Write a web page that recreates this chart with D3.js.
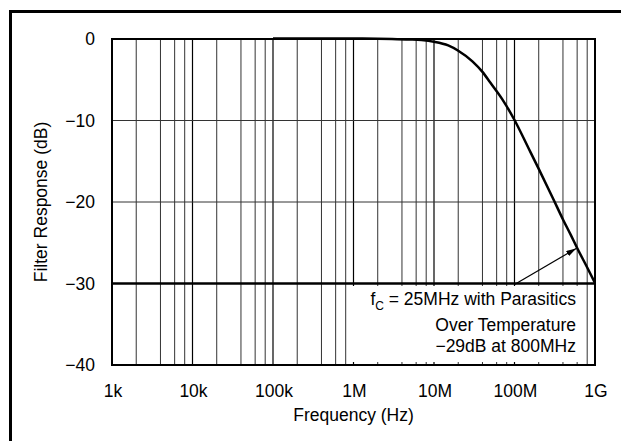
<!DOCTYPE html>
<html>
<head>
<meta charset="utf-8">
<script src="https://cdn.jsdelivr.net/npm/d3@7"></script>
<style>
  body { margin: 0; background: #fff; }
  text { font-family: "Liberation Sans", Arial, sans-serif; fill: #000; }
</style>
</head>
<body>
<div id="chart"></div>
<script>
// values
const freqHz = [1e5, 1e6, 2e6, 3e6, 5e6, 7e6, 1e7, 1.5e7, 2e7, 3e7, 4e7, 5e7, 7e7, 1e8, 1.5e8, 2e8, 3e8, 4e8, 5e8, 6e8, 8e8, 1e9];
const responseDb = [0, 0, -0.02, -0.05, -0.12, -0.2, -0.4, -0.85, -1.5, -2.8, -4.1, -5.4, -7.4, -10.0, -13.5, -16.0, -19.6, -22.2, -24.1, -25.7, -28.1, -30];

const xTicks = [1e3, 1e4, 1e5, 1e6, 1e7, 1e8, 1e9];
const xTickLabels = ["1k", "10k", "100k", "1M", "10M", "100M", "1G"];
const minorSteps = [2, 4, 6, 8];
const yTicks = [0, -10, -20, -30, -40];
const yTickLabels = ["0", "\u221210", "\u221220", "\u221230", "\u221240"];

const noteLines = ["Over Temperature", "\u221229dB at 800MHz"];

const width = 621, height = 441;
const fs = 17.5;

let svg = d3.select("#chart").append("svg")
    .attr("width", width)
    .attr("height", height);

let x = d3.scaleLog().domain([1e3, 1e9]).range([112, 595]);
let y = d3.scaleLinear().domain([-40, 0]).range([365, 39]);

// outer frame (only left + top show in the picture)
svg.append("path")
    .attr("d", "M10.5," + height + "V11.5H" + width)
    .attr("fill", "none")
    .attr("stroke", "#000")
    .attr("stroke-width", 3);

// vertical grid
let minorVals = [];
xTicks.slice(0, -1).forEach(d => minorSteps.forEach(m => minorVals.push(d * m)));

svg.selectAll(".vminor")
    .data(minorVals)
    .enter().append("line")
    .attr("x1", d => x(d)).attr("x2", d => x(d))
    .attr("y1", y(0)).attr("y2", y(-40))
    .attr("stroke", "#333")
    .attr("stroke-width", 1);

svg.selectAll(".vmajor")
    .data(xTicks)
    .enter().append("line")
    .attr("x1", d => x(d)).attr("x2", d => x(d))
    .attr("y1", y(0)).attr("y2", y(-40))
    .attr("stroke", "#000")
    .attr("stroke-width", 1.2);

// horizontal grid
svg.selectAll(".hgrid")
    .data([-10, -20])
    .enter().append("line")
    .attr("x1", x(1e3)).attr("x2", x(1e9))
    .attr("y1", d => y(d)).attr("y2", d => y(d))
    .attr("stroke", "#333")
    .attr("stroke-width", 1);

// white box behind the note, grid stubs stay visible at its edges
svg.append("rect")
    .attr("x", 348)
    .attr("y", y(-30) + 2.5)
    .attr("width", 237)
    .attr("height", 76)
    .attr("fill", "#fff");

// thick -30 line
svg.append("line")
    .attr("x1", x(1e3)).attr("x2", x(1e9))
    .attr("y1", y(-30)).attr("y2", y(-30))
    .attr("stroke", "#000")
    .attr("stroke-width", 2.5);

// plot frame
svg.append("rect")
    .attr("x", x(1e3)).attr("y", y(0))
    .attr("width", x(1e9) - x(1e3))
    .attr("height", y(-40) - y(0))
    .attr("fill", "none")
    .attr("stroke", "#000")
    .attr("stroke-width", 2);

// response curve
let line = d3.line()
    .x(d => x(d[0]))
    .y(d => y(d[1]) - 0.5)
    .curve(d3.curveMonotoneX);

svg.append("path")
    .datum(freqHz.map((f, i) => [f, responseDb[i]]))
    .attr("d", line)
    .attr("fill", "none")
    .attr("stroke", "#000")
    .attr("stroke-width", 2.5);

// tick labels
svg.selectAll(".ylab")
    .data(yTicks)
    .enter().append("text")
    .attr("x", 95)
    .attr("y", d => y(d))
    .attr("dy", "0.35em")
    .attr("text-anchor", "end")
    .attr("font-size", fs)
    .text((d, i) => yTickLabels[i]);

svg.selectAll(".xlab")
    .data(xTicks)
    .enter().append("text")
    .attr("x", d => x(d) + 1)
    .attr("y", 396.5)
    .attr("text-anchor", "middle")
    .attr("font-size", fs)
    .text((d, i) => xTickLabels[i]);

// axis titles
svg.append("text")
    .attr("x", (x(1e3) + x(1e9)) / 2)
    .attr("y", 421)
    .attr("text-anchor", "middle")
    .attr("font-size", fs)
    .text("Frequency (Hz)");

svg.append("text")
    .attr("transform", "translate(47," + (y(0) + y(-40)) / 2 + ") rotate(-90)")
    .attr("text-anchor", "middle")
    .attr("font-size", fs)
    .text("Filter Response (dB)");

// note text
let note = svg.append("text")
    .attr("x", 576)
    .attr("y", 305)
    .attr("text-anchor", "end")
    .attr("font-size", fs);
note.append("tspan").text("f");
note.append("tspan").attr("font-size", 12).attr("dy", 5).text("C");
note.append("tspan").attr("dy", -5).text(" = 25MHz with Parasitics");

noteLines.forEach((t, i) => {
    svg.append("text")
        .attr("x", 576)
        .attr("y", 331 + i * 21)
        .attr("text-anchor", "end")
        .attr("font-size", fs)
        .text(t);
});

// arrow to the curve
svg.append("defs").append("marker")
    .attr("id", "head")
    .attr("viewBox", "0 0 10 6")
    .attr("refX", 10).attr("refY", 3)
    .attr("markerWidth", 10).attr("markerHeight", 6)
    .attr("markerUnits", "userSpaceOnUse")
    .attr("orient", "auto")
    .append("path")
    .attr("d", "M0,0L10,3L0,6Z")
    .attr("fill", "#000");

svg.append("line")
    .attr("x1", x(1e8)).attr("y1", y(-30) + 1)
    .attr("x2", x(6e8) - 1).attr("y2", y(-25.7))
    .attr("stroke", "#000")
    .attr("stroke-width", 1.2)
    .attr("marker-end", "url(#head)");
</script>
</body>
</html>
